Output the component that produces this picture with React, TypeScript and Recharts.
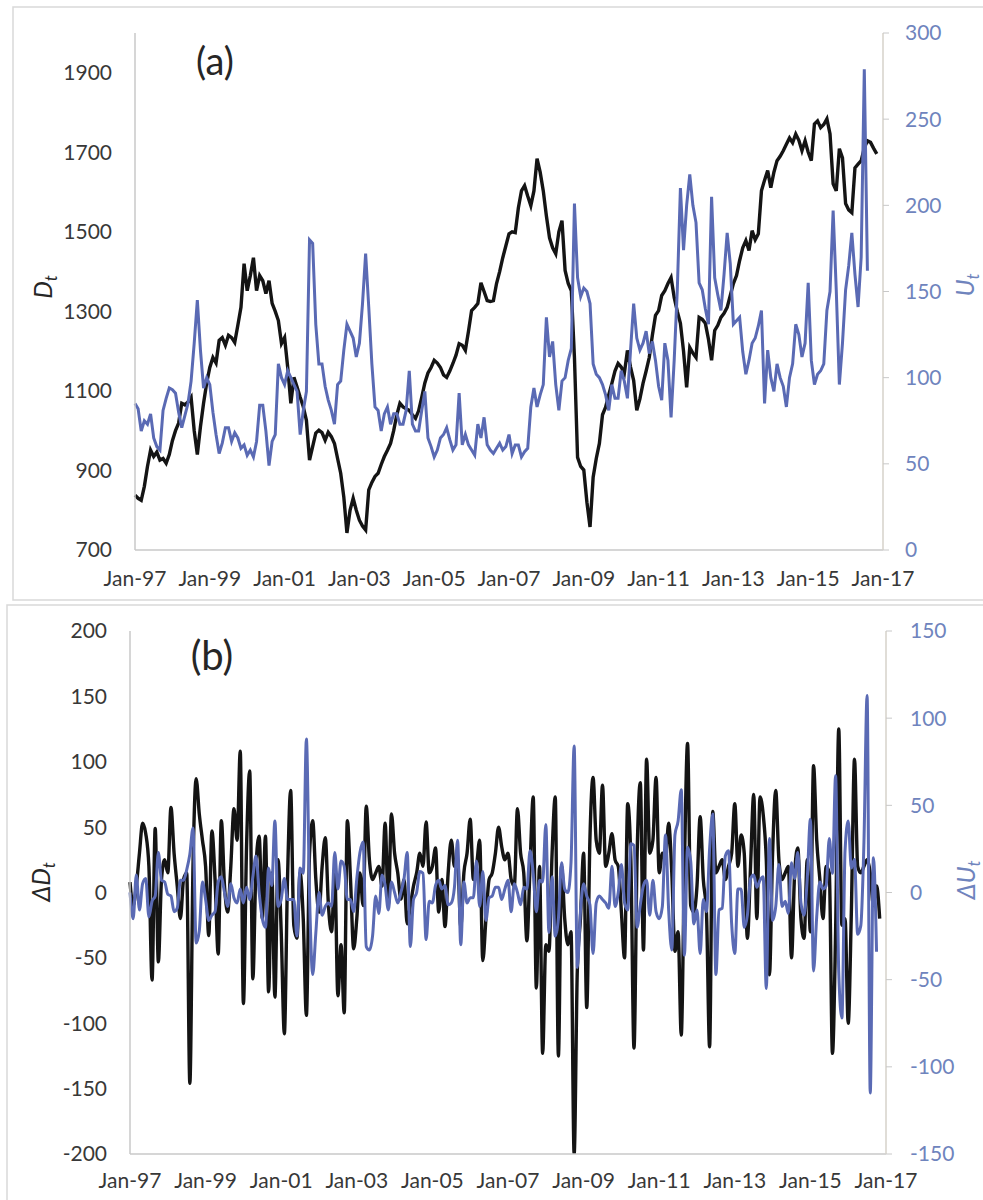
import React from "react";
import { Line, LineChart, XAxis, YAxis } from "recharts";

// x axis: months since Jan-97, labelled every two years
const xLabels = ["Jan-97", "Jan-99", "Jan-01", "Jan-03", "Jan-05", "Jan-07", "Jan-09", "Jan-11", "Jan-13", "Jan-15", "Jan-17"];
const xTicks = xLabels.map((_, i) => i * 24);

const dTicks = [700, 900, 1100, 1300, 1500, 1700, 1900];
const uTicks = [0, 50, 100, 150, 200, 250, 300];
const dDTicks = [-200, -150, -100, -50, 0, 50, 100, 150, 200];
const dUTicks = [-150, -100, -50, 0, 50, 100, 150];

// panel (a): D_t, monthly from Jan-97
const levelD = [
  838, 830, 825, 860, 910, 951, 935, 946, 926, 930, 918, 940,
  975, 1000, 1019, 1069, 1065, 1072, 1084, 1000, 940, 1010, 1069, 1120,
  1159, 1184, 1170, 1227, 1234, 1215, 1240, 1234, 1222, 1265, 1310, 1420,
  1352, 1390, 1435, 1352, 1390, 1377, 1345, 1377, 1320, 1300, 1277, 1219,
  1234, 1159, 1069, 1134, 1110, 1084, 1060, 1026, 926, 960, 994, 1001,
  995, 976, 996, 985, 968, 930, 893, 833, 743, 800, 830, 800,
  775, 760, 750, 851, 870, 885, 893, 915, 935, 951, 968, 1000,
  1040, 1069, 1060, 1055, 1051, 1040, 1031, 1050, 1084, 1120, 1145, 1159,
  1177, 1170, 1159, 1140, 1134, 1150, 1169, 1190, 1219, 1215, 1202, 1250,
  1302, 1310, 1320, 1372, 1350, 1327, 1325, 1327, 1370, 1400, 1435, 1465,
  1495, 1500, 1498, 1560, 1603, 1616, 1590, 1566, 1603, 1684, 1650, 1603,
  1540, 1485, 1460, 1445, 1500, 1528, 1403, 1370, 1352, 1184, 933, 910,
  901, 820, 758, 883, 930, 968, 1040, 1059, 1090, 1119, 1150, 1169,
  1160, 1144, 1202, 1160, 1126, 1051, 1080, 1119, 1150, 1184, 1240, 1290,
  1302, 1340, 1352, 1370, 1385, 1335, 1300, 1270, 1200, 1109, 1209, 1195,
  1184, 1285, 1280, 1270, 1230, 1177, 1252, 1265, 1285, 1295, 1310, 1340,
  1370, 1390, 1428, 1460, 1478, 1453, 1503, 1480, 1495, 1603, 1630, 1654,
  1611, 1650, 1679, 1690, 1704, 1720, 1736, 1724, 1746, 1730, 1704, 1729,
  1700, 1679, 1771, 1779, 1762, 1770, 1784, 1746, 1621, 1603, 1709, 1686,
  1571, 1555, 1548, 1661, 1670, 1679, 1711, 1729, 1725, 1710, 1696,
];

// panel (a): U_t
const levelU = [
  85, 82, 69, 75, 73, 79, 65, 60, 58, 81, 88, 94,
  93, 91, 80, 71, 78, 85, 98, 120, 145, 116, 94, 100,
  96, 80, 67, 56, 62, 71, 71, 63, 68, 65, 59, 61,
  55, 58, 54, 63, 84, 84, 69, 49, 63, 67, 108, 100,
  96, 104, 100, 96, 92, 67, 81, 92, 180, 178, 131, 108,
  108, 95, 87, 81, 73, 96, 98, 116, 131, 127, 123, 112,
  120, 143, 172, 141, 108, 83, 81, 69, 79, 83, 73, 79,
  79, 73, 73, 81, 104, 73, 69, 69, 81, 92, 65, 60,
  54, 58, 65, 67, 71, 64, 58, 61, 91, 61, 67, 61,
  58, 55, 73, 65, 77, 61, 58, 56, 59, 62, 58, 60,
  67, 56, 61, 61, 54, 57, 59, 83, 94, 83, 90, 96,
  135, 112, 121, 96, 81, 98, 100, 110, 117, 201, 158, 147,
  152, 150, 143, 108, 102, 100, 96, 90, 81, 96, 88, 88,
  104, 98, 88, 116, 143, 123, 116, 120, 127, 114, 121, 110,
  95, 87, 120, 110, 77, 110, 151, 210, 174, 200, 218, 200,
  190, 155, 151, 140, 131, 205, 158, 148, 139, 160, 184, 166,
  131, 133, 135, 115, 102, 110, 120, 123, 130, 139, 85, 116,
  100, 92, 108, 100, 95, 83, 100, 108, 131, 125, 112, 120,
  155, 110, 96, 102, 104, 108, 139, 150, 197, 151, 96, 120,
  151, 165, 184, 160, 141, 170, 279, 162,
];

// panel (b): ΔD_t
const diffD = [
  8, -10, 5, 30, 53, 45, 20, -67, 49, -53, 10, 25,
  15, 65, 30, 5, -20, 10, 15, -146, 20, 87, 60, 40,
  20, -33, 47, 10, -47, 55, 5, -15, 20, 64, 40, 108,
  -85, 35, 93, -66, 20, 43, -20, 43, -76, 15, -80, 25,
  -30, -108, 10, 78, -25, -35, 15, -20, -94, 30, 55, 10,
  -15, 20, 42, -10, -30, 15, -79, -40, -92, 55, 10, -43,
  -20, 15, -10, 66, 25, 10, 15, 20, 5, 53, -10, 60,
  30, 15, -5, 10, -24, -10, 5, 15, 30, 20, 54, 15,
  20, 34, -15, 10, -26, 15, 40, 20, 25, -26, 15, 30,
  56, 10, 20, 40, -52, -20, 10, 15, 30, 50, 35, 25,
  30, 10, 5, 64, 30, 15, -37, 20, 73, -73, 20, -123,
  -40, -45, 30, 73, -125, 20, -20, -40, -30, -200, -60, -20,
  30, -88, 40, 88, 40, 30, 82, 20, 30, 45, 25, 20,
  -15, -50, 68, 25, -119, 30, 84, -44, 102, 30, 40, 88,
  15, 30, 25, 53, 15, -45, -30, -109, 20, 114, -10, -15,
  5, 58, 10, -15, -118, 62, 15, 20, 25, 10, 20, 30,
  68, 20, 44, 30, -35, 20, 75, -20, 73, 60, 25, -63,
  30, 78, 25, 10, 15, 20, -50, 15, 34, -20, -35, 25,
  -30, 97, 40, 10, -20, 20, 15, -123, -30, 125, -25, -20,
  -100, -15, 102, 20, 15, 20, 25, 15, -10, 5, -20,
];

// panel (b): ΔU_t
const diffU = [
  0, -15, 10, -10, 5, 8, -14, -5, -2, 23, 7, 6,
  -1, -2, -11, -9, 7, 7, 13, 22, 37, -29, -22, 6,
  -4, -16, -13, -11, 6, 9, 0, -8, 5, -3, -6, 2,
  -6, 3, -4, 9, 21, 0, -15, -20, 14, 4, 41, -8,
  -4, 8, -4, -4, -4, -25, 14, 11, 88, -2, -47, -23,
  0, -13, -8, -6, -8, 23, 2, 18, 15, -4, -4, -11,
  8, 23, 29, -31, -33, -25, -2, -12, 10, 4, -10, 6,
  0, -6, 0, 8, 23, -31, -4, 0, 12, 11, -27, -5,
  -6, 4, 7, 2, 4, -7, -6, 3, 30, -30, 6, -6,
  -3, -3, 18, -8, 12, -16, -3, -2, 3, 3, -4, 2,
  7, -11, 5, 0, -7, 3, 2, 24, 11, -11, 7, 6,
  39, -23, 9, -25, -15, 17, 2, 0, 17, 84, -43, -11,
  5, -2, -7, -35, -6, -2, -4, -6, -9, 15, -8, 0,
  16, -6, -10, 28, 27, -20, -7, 4, 7, -13, 7, -11,
  -15, -8, 33, -10, -33, 33, 41, 59, -36, 26, 18, -18,
  -10, -35, -4, -11, 25, 45, -47, -10, -9, 21, 24, -18,
  -35, 2, 2, -20, -13, 8, 10, 3, 7, 9, -55, 31,
  -16, -8, 16, -8, -5, -12, 17, 8, 23, -6, -13, 8,
  42, -45, -14, 6, 2, 4, 31, 11, 67, -46, -72, 24,
  41, 14, 19, -24, -19, 29, 113, -115, 20, -34,
];

const topData = levelD.map((d, i) => ({
  m: i,
  D: d,
  U: i < levelU.length ? levelU[i] : null,
}));

const bottomData = diffD.map((d, i) => ({
  m: i,
  dD: d,
  dU: i < diffU.length ? diffU[i] : null,
}));

const FONT = "Lato, 'Open Sans', sans-serif";
const BLACK = "#141414";
const BLUE = "#5a6ab4";
const LEFT_TICK = { fill: "#383838", fontSize: 21, fontFamily: FONT };
const RIGHT_TICK = { fill: "#6f84bd", fontSize: 21, fontFamily: FONT };
const AXIS = { stroke: "#c8c8c8", strokeWidth: 1.5 };

const fmtX = (v: number) => xLabels[v / 24];

const App = () => {
  return (
    <div
      style={{
        position: "absolute",
        left: 0,
        top: 0,
        width: 983,
        height: 1200,
        background: "#fff",
        overflow: "hidden",
        fontFamily: FONT,
      }}
    >
      {/* frames and titles */}
      <svg width={983} height={1200} style={{ position: "absolute", left: 0, top: 0 }}>
        <rect x={13} y={7} width={1000} height={593} fill="none" stroke="#d9d9d9" strokeWidth={1.5} />
        <rect x={7} y={605} width={1000} height={620} fill="none" stroke="#d9d9d9" strokeWidth={1.5} />
        <text x={215} y={75} textAnchor="middle" fontSize={38} fill="#262626" fontFamily={FONT}>
          (a)
        </text>
        <text x={212} y={670} textAnchor="middle" fontSize={40} fill="#262626" fontFamily={FONT}>
          (b)
        </text>
        <text transform="translate(52,287) rotate(-90)" textAnchor="middle" fontSize={25} fontStyle="italic" fill="#262626" fontFamily={FONT}>
          D<tspan dy={5} fontSize={17}>t</tspan>
        </text>
        <text transform="translate(974,285) rotate(-90)" textAnchor="middle" fontSize={25} fontStyle="italic" fill="#6f84bd" fontFamily={FONT}>
          U<tspan dy={5} fontSize={17}>t</tspan>
        </text>
        <text transform="translate(50,882) rotate(-90)" textAnchor="middle" fontSize={25} fontStyle="italic" fill="#262626" fontFamily={FONT}>
          ΔD<tspan dy={5} fontSize={17}>t</tspan>
        </text>
        <text transform="translate(975,880) rotate(-90)" textAnchor="middle" fontSize={25} fontStyle="italic" fill="#6f84bd" fontFamily={FONT}>
          ΔU<tspan dy={5} fontSize={17}>t</tspan>
        </text>
      </svg>

      {/* panel (a) */}
      <div style={{ position: "absolute", left: 0, top: 0 }}>
        <LineChart width={983} height={600} data={topData} margin={{ top: 33, right: 0, bottom: 10, left: 0 }}>
          <XAxis
            dataKey="m"
            type="number"
            domain={[0, 240]}
            ticks={xTicks}
            interval={0}
            tickFormatter={fmtX}
            tickLine={false}
            tickSize={0}
            tickMargin={21}
            axisLine={AXIS}
            tick={LEFT_TICK}
            height={40}
          />
          <YAxis
            yAxisId="left"
            domain={[700, 2000]}
            ticks={dTicks}
            interval={0}
            width={135}
            tickLine={false}
            tickSize={0}
            tickMargin={23}
            axisLine={AXIS}
            tick={LEFT_TICK}
          />
          <YAxis
            yAxisId="right"
            orientation="right"
            domain={[0, 300]}
            ticks={uTicks}
            interval={0}
            width={100}
            tickLine={{ stroke: "#c8c8c8" }}
            tickSize={6}
            tickMargin={16}
            axisLine={{ stroke: "#d6d2ca", strokeWidth: 1.5 }}
            tick={RIGHT_TICK}
          />
          <Line yAxisId="left" type="linear" dataKey="D" stroke={BLACK} strokeWidth={3.4} dot={false} isAnimationActive={false} />
          <Line yAxisId="right" type="linear" dataKey="U" stroke={BLUE} strokeWidth={3} dot={false} isAnimationActive={false} />
        </LineChart>
      </div>

      {/* panel (b) */}
      <div style={{ position: "absolute", left: 0, top: 600 }}>
        <LineChart width={983} height={600} data={bottomData} margin={{ top: 31, right: 0, bottom: 6, left: 0 }}>
          <XAxis
            dataKey="m"
            type="number"
            domain={[0, 240]}
            ticks={xTicks}
            interval={0}
            tickFormatter={fmtX}
            tickLine={false}
            tickSize={0}
            tickMargin={19}
            axisLine={AXIS}
            tick={LEFT_TICK}
            height={40}
          />
          <YAxis
            yAxisId="left"
            domain={[-200, 200]}
            ticks={dDTicks}
            interval={0}
            allowDataOverflow
            width={130}
            tickLine={false}
            tickSize={0}
            tickMargin={23}
            axisLine={AXIS}
            tick={LEFT_TICK}
          />
          <YAxis
            yAxisId="right"
            orientation="right"
            domain={[-150, 150]}
            ticks={dUTicks}
            interval={0}
            allowDataOverflow
            width={97}
            tickLine={{ stroke: "#c8c8c8" }}
            tickSize={6}
            tickMargin={18}
            axisLine={{ stroke: "#d6d2ca", strokeWidth: 1.5 }}
            tick={RIGHT_TICK}
          />
          <Line yAxisId="left" type="monotone" dataKey="dD" stroke={BLACK} strokeWidth={3.4} dot={false} isAnimationActive={false} />
          <Line yAxisId="right" type="monotone" dataKey="dU" stroke={BLUE} strokeWidth={3} dot={false} isAnimationActive={false} />
        </LineChart>
      </div>
    </div>
  );
};

export default App;
